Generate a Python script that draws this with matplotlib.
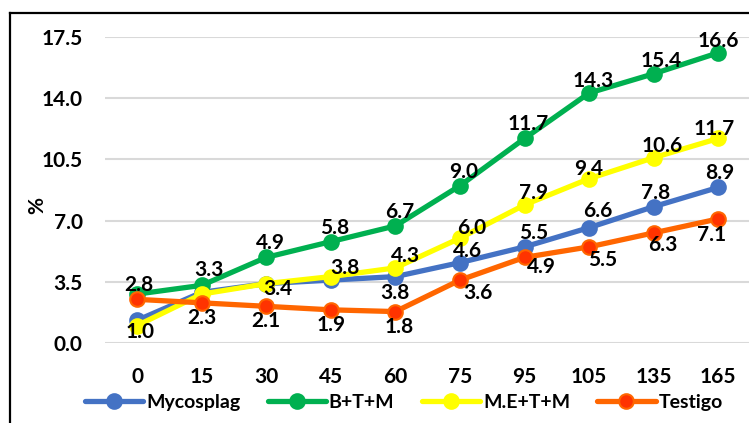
import matplotlib.pyplot as plt
from matplotlib.lines import Line2D

# days after application
days = ['0', '15', '30', '45', '60', '75', '95', '105', '135', '165']

mycosplag = [1.3, 2.9, 3.4, 3.6, 3.8, 4.6, 5.5, 6.6, 7.8, 8.9]
btm = [2.8, 3.3, 4.9, 5.8, 6.7, 9.0, 11.7, 14.3, 15.4, 16.6]
metm = [1.0, 2.8, 3.4, 3.8, 4.3, 6.0, 7.9, 9.4, 10.6, 11.7]
testigo = [2.5, 2.3, 2.1, 1.9, 1.8, 3.6, 4.9, 5.5, 6.3, 7.1]

yticks = [0.0, 3.5, 7.0, 10.5, 14.0, 17.5]

plt.rcParams['font.family'] = ['Lato', 'DejaVu Sans']
plt.rcParams['font.weight'] = 'bold'

fig = plt.figure(figsize=(7.49, 4.23), dpi=100)
ax = fig.add_axes([0.140, 0.189, 0.862, 0.7234])

x = range(len(days))
series = [
    ('Mycosplag', mycosplag, '#4472C4', '#4472C4', '#4472C4'),
    ('B+T+M', btm, '#00B050', '#00B050', '#00B050'),
    ('M.E+T+M', metm, '#FFFF00', '#FFFF00', '#FFFF00'),
    ('Testigo', testigo, '#FF6600', '#FF3300', '#FF6600'),
]
for name, vals, col, face, edge in series:
    ax.plot(x, vals, color=col, lw=3.8, marker='o', ms=10.5,
            mfc=face, mec=edge, mew=1.5, label=name, solid_capstyle='round')

# label offsets in pixels (None = no label)
offs = {
    'Mycosplag': [None, None, None, None, (0, -16), (8, 12), (9, 14), (9, 17), (2, 14), (2, 14)],
    'B+T+M': [(2, 9), (7, 15), (4, 14), (4, 14), (4, 14), (4, 14), (4, 14), (4, 12), (7, 13), (0, 12)],
    'M.E+T+M': [(3, -6), None, (12, -5), (14, 9), (10, 12), (12, 10), (9, 12), (0, 10), (9, 12), (-4, 9)],
    'Testigo': [None, (0, -15), (0, -15), (0, -15), (4, -15), (18, -13), (17, -10), (14, -13), (9, -12), (-7, -16)],
}
for name, vals, col, face, edge in series:
    for i, v in enumerate(vals):
        o = offs[name][i]
        if o is None:
            continue
        ax.annotate('%.1f' % v, (i, v), xytext=o, textcoords='offset pixels',
                    ha='center', va='center', fontsize=15, fontweight='bold')

ax.set_xlim(-0.5, 9.5)
ax.set_ylim(0, 17.5)
ax.set_yticks(yticks)
ax.set_yticklabels(['%.1f' % t for t in yticks])
ax.set_xticks(list(x))
ax.set_xticklabels(days)
ax.tick_params(length=0, labelsize=15)
ax.tick_params(axis='x', pad=17)
ax.tick_params(axis='y', pad=16)
ax.grid(axis='y', color='#D9D9D9', lw=1.5)
ax.set_axisbelow(True)
for s in ax.spines.values():
    s.set_visible(False)
ax.set_ylabel('%', fontsize=15, fontweight='bold')
ax.yaxis.set_label_coords(-0.09, 0.45)

ax.legend(loc='center', bbox_to_anchor=(0.463, -0.195), ncol=4, frameon=False,
          fontsize=14, handlelength=3.0, handletextpad=0.15, columnspacing=1.4)

# outer frame (only left and top visible in the crop)
fig.add_artist(Line2D([10 / 749, 10 / 749], [0, 1 - 13 / 423], color='black', lw=1.6))
fig.add_artist(Line2D([10 / 749, 1], [1 - 13 / 423, 1 - 13 / 423], color='black', lw=1.6))

fig.savefig('out.png', dpi=100)
